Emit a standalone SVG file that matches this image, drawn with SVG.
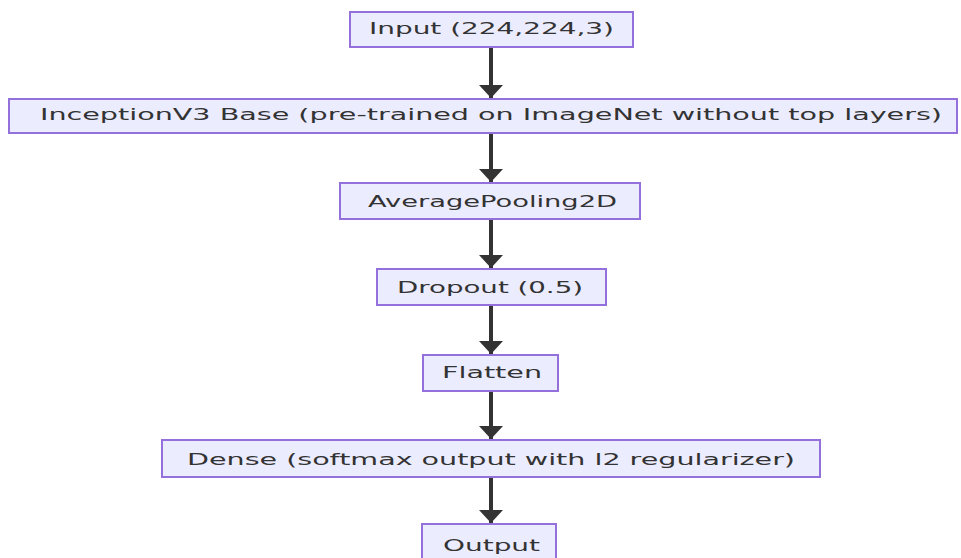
<svg xmlns="http://www.w3.org/2000/svg" width="961" height="558" viewBox="0 0 961 558">
<style>
.box{fill:#ECECFF;stroke:#9370DB;stroke-width:2}
.lbl{font-family:"DejaVu Sans",Verdana,sans-serif;font-size:16px;fill:#333333}
.edge{stroke:#333333;stroke-width:4;fill:none}
</style>
<defs>
<marker id="arr" markerUnits="userSpaceOnUse" markerWidth="24" markerHeight="14" refX="12" refY="13" orient="0" viewBox="0 0 24 14">
<path d="M0,0 L24,0 L12,13 Z" fill="#333333"/>
</marker>
</defs>
<rect width="961" height="558" fill="#ffffff"/>
<g id="connectors">
<line class="edge" x1="491" y1="47" x2="491" y2="98" marker-end="url(#arr)"/>
<line class="edge" x1="491" y1="133" x2="491" y2="182" marker-end="url(#arr)"/>
<line class="edge" x1="491" y1="219" x2="491" y2="268" marker-end="url(#arr)"/>
<line class="edge" x1="491" y1="305" x2="491" y2="354" marker-end="url(#arr)"/>
<line class="edge" x1="491" y1="391" x2="491" y2="439" marker-end="url(#arr)"/>
<line class="edge" x1="491" y1="477" x2="491" y2="523" marker-end="url(#arr)"/>
</g>
<g id="input">
<rect class="box" x="350" y="12" width="283" height="35"/>
<text class="lbl" x="369" y="34" textLength="245" lengthAdjust="spacingAndGlyphs">Input (224,224,3)</text>
</g>
<g id="inception">
<rect class="box" x="9" y="99" width="948" height="34"/>
<text class="lbl" x="40" y="120" textLength="902" lengthAdjust="spacingAndGlyphs">InceptionV3 Base (pre-trained on ImageNet without top layers)</text>
</g>
<g id="avgpool">
<rect class="box" x="340" y="183" width="300" height="36"/>
<text class="lbl" x="368" y="207" textLength="249" lengthAdjust="spacingAndGlyphs">AveragePooling2D</text>
</g>
<g id="dropout">
<rect class="box" x="377" y="269" width="229" height="36"/>
<text class="lbl" x="397" y="293" textLength="186" lengthAdjust="spacingAndGlyphs">Dropout (0.5)</text>
</g>
<g id="flatten">
<rect class="box" x="423" y="355" width="135" height="36"/>
<text class="lbl" x="442" y="378" textLength="100" lengthAdjust="spacingAndGlyphs">Flatten</text>
</g>
<g id="dense">
<rect class="box" x="162" y="440" width="658" height="37"/>
<text class="lbl" x="187" y="465" textLength="608" lengthAdjust="spacingAndGlyphs">Dense (softmax output with l2 regularizer)</text>
</g>
<g id="output">
<rect class="box" x="422" y="524" width="134" height="40"/>
<text class="lbl" x="443" y="551" textLength="97" lengthAdjust="spacingAndGlyphs">Output</text>
</g>
</svg>
